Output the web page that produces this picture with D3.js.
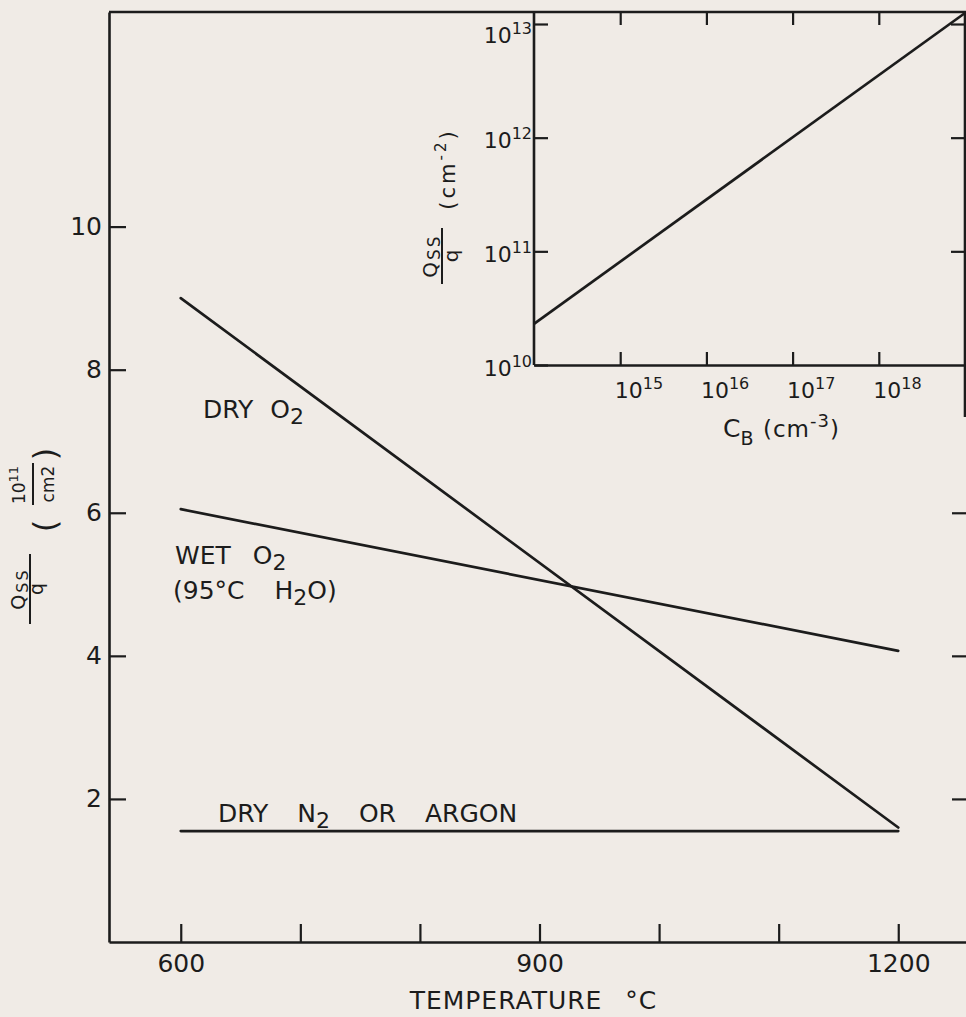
<!DOCTYPE html>
<html>
<head>
<meta charset="utf-8">
<script src="https://cdn.jsdelivr.net/npm/d3@7"></script>
<style>
  html, body { margin: 0; padding: 0; background: #f0ebe6; }
  svg { display: block; font-family: "DejaVu Sans", sans-serif; }
</style>
</head>
<body>
<svg id="chart" width="966" height="1017"></svg>
<script>
// main plot: Qss/q (10^11 cm^-2) against oxidation temperature
const temps = [600, 1200]
const dryO2 = [9.0, 1.6]
const wetO2 = [6.05, 4.07]
const dryN2 = [1.55, 1.55]
const tempTicks = [600, 700, 800, 900, 1000, 1100, 1200]
const tempTickLabels = [600, 900, 1200]
const qTicks = [2, 4, 6, 8, 10]
const qRightTicks = [2, 4, 6]

// inset: Qss/q against bulk doping C_B, log-log
const cbValues = [1e14, 1e19]
const qssValues = [2.3e10, 1.25e13]
const cbTicks = [1e15, 1e16, 1e17, 1e18]
const qssTicks = [1e10, 1e11, 1e12, 1e13]
const qssRightTicks = [1e11, 1e12, 1e13]

const ink = '#1c1c1c'
const svg = d3.select('#chart')

const x = d3.scaleLinear().domain([540, 1260]).range([109, 970])
const y = d3.scaleLinear().domain([0, 13]).range([942, 12])
const xi = d3.scaleLog().domain([1e14, 1e19]).range([534, 965])
const yi = d3.scaleLog().domain([1e10, 1e13]).range([365, 24])

// text with ^{..} / _{..} pieces turned into raised / lowered tspans
function rich(sel, str, smallSize, up, down) {
    const parts = str.split(/([_^]\{[^}]*\})/).filter(s => s)
    let off = 0
    parts.forEach(p => {
        const ts = sel.append('tspan')
        let target = 0
        if (p[0] === '^' || p[0] === '_') {
            target = p[0] === '^' ? -up : down
            ts.text(p.slice(2, -1)).attr('font-size', smallSize)
        } else {
            ts.text(p)
        }
        // a tspan dy replaces the parent's dy, so only set it when it moves
        if (target - off !== 0) ts.attr('dy', target - off)
        off = target
    })
}

function styleAxis(g) {
    g.attr('font-family', null).attr('font-size', null)
    g.selectAll('line').attr('stroke', ink).attr('stroke-width', 2.2)
    g.selectAll('path').attr('stroke', ink).attr('stroke-width', 2.6)
    g.selectAll('text').attr('fill', ink)
}

// ---- main frame
svg.append('line')
    .attr('x1', x(540)).attr('x2', 966)
    .attr('y1', y(13)).attr('y2', y(13))
    .attr('stroke', ink).attr('stroke-width', 2.6)

svg.append('g')
    .attr('transform', `translate(0,${y(0)})`)
    .call(d3.axisBottom(x).tickValues(tempTicks).tickSize(-18).tickSizeOuter(0).tickPadding(12)
        .tickFormat(d => tempTickLabels.includes(d) ? d : ''))
    .call(styleAxis)
    .call(g => g.selectAll('text').attr('font-size', 25))

svg.append('g')
    .attr('transform', `translate(${x(540)},0)`)
    .call(d3.axisLeft(y).tickValues(qTicks).tickSize(-17).tickSizeOuter(0).tickPadding(7))
    .call(styleAxis)
    .call(g => g.selectAll('text').attr('font-size', 25))

svg.append('g')
    .attr('transform', `translate(${x(1260)},0)`)
    .call(d3.axisRight(y).tickValues(qRightTicks).tickSize(-18).tickFormat(''))
    .call(styleAxis)
    .call(g => g.select('.domain').remove())

// ---- main curves
const line = d3.line().x(d => x(d[0])).y(d => y(d[1]))
;[dryO2, wetO2, dryN2].forEach(vals => {
    svg.append('path')
        .datum(temps.map((t, i) => [t, vals[i]]))
        .attr('d', line)
        .attr('fill', 'none')
        .attr('stroke', ink)
        .attr('stroke-width', 2.7)
        .attr('stroke-linecap', 'round')
})

const notes = [
    { t: 618.6, v: 7.33, text: 'DRY O_{2}', ws: 9 },
    { t: 595.2, v: 5.29, text: 'WET O_{2}', ws: 14 },
    { t: 593.5, v: 4.80, text: '(95°C H_{2}O)', ws: 22 },
    { t: 631.2, v: 1.68, text: 'DRY N_{2} OR ARGON', ws: 21 }
]
notes.forEach(n => {
    const t = svg.append('text')
        .attr('x', x(n.t)).attr('y', y(n.v))
        .attr('font-size', 25).attr('fill', ink)
        .style('word-spacing', n.ws + 'px')
    rich(t, n.text, 22, 9, 6)
})

svg.append('text')
    .attr('x', x(900) - 6).attr('y', 1009)
    .attr('text-anchor', 'middle')
    .attr('font-size', 25).attr('fill', ink)
    .style('letter-spacing', '1px')
    .style('word-spacing', '14px')
    .text('TEMPERATURE °C')

// main y title, rotated
const yt = svg.append('g').attr('transform', 'translate(30,560) rotate(-90)')
    .attr('fill', ink)
yt.append('line').attr('x1', -64).attr('x2', 6).attr('y1', 0).attr('y2', 0)
    .attr('stroke', ink).attr('stroke-width', 2)
rich(yt.append('text').attr('x', -29).attr('y', -5).attr('text-anchor', 'middle')
    .attr('font-size', 19).style('letter-spacing', '2px'), 'Q_{SS}', 16, 0, 3)
yt.append('text').attr('x', -29).attr('y', 13).attr('text-anchor', 'middle')
    .attr('font-size', 19).text('q')
yt.append('text').attr('x', 34).attr('y', 26).attr('text-anchor', 'middle')
    .attr('font-size', 32).text('(')
yt.append('text').attr('x', 106).attr('y', 26).attr('text-anchor', 'middle')
    .attr('font-size', 32).text(')')
rich(yt.append('text').attr('x', 75).attr('y', -5).attr('text-anchor', 'middle')
    .attr('font-size', 17), '10^{11}', 13, 7, 0)
yt.append('line').attr('x1', 55).attr('x2', 97).attr('y1', 3).attr('y2', 3)
    .attr('stroke', ink).attr('stroke-width', 2)
yt.append('text').attr('x', 76).attr('y', 24).attr('text-anchor', 'middle')
    .attr('font-size', 17).text('cm2')

// ---- inset
svg.append('line')
    .attr('x1', xi(1e19)).attr('x2', xi(1e19))
    .attr('y1', y(13)).attr('y2', 417)
    .attr('stroke', ink).attr('stroke-width', 2.6)

svg.append('g')
    .attr('transform', `translate(0,${yi(1e10)})`)
    .call(d3.axisBottom(xi).tickValues(cbTicks).tickSize(-13).tickSizeOuter(0).tickPadding(17))
    .call(styleAxis)
    .call(g => g.selectAll('.tick text')
        .attr('font-size', 22).attr('text-anchor', 'start').attr('x', -6)
        .each(function (d) {
            d3.select(this).text(null)
            rich(d3.select(this), `10^{${Math.round(Math.log10(d))}}`, 16, 9, 0)
        }))

svg.append('g')
    .attr('transform', `translate(${xi(1e14)},0)`)
    .call(d3.axisLeft(yi).tickValues(qssTicks).tickSize(-14).tickSizeOuter(0).tickPadding(2))
    .call(styleAxis)
    .call(g => g.select('.domain').attr('d', `M0,${yi(1e10)}V${y(13)}`))
    .call(g => g.selectAll('.tick text')
        .attr('font-size', 22)
        .attr('dy', d => d === 1e13 ? 18 : 10)
        .each(function (d) {
            d3.select(this).text(null)
            rich(d3.select(this), `10^{${Math.round(Math.log10(d))}}`, 16, 9, 0)
        }))

svg.append('g')
    .attr('transform', `translate(0,${y(13)})`)
    .call(d3.axisTop(xi).tickValues(cbTicks).tickSize(-13).tickFormat(''))
    .call(styleAxis)
    .call(g => g.select('.domain').remove())

svg.append('g')
    .attr('transform', `translate(${xi(1e19)},0)`)
    .call(d3.axisRight(yi).tickValues(qssRightTicks).tickSize(-14).tickFormat(''))
    .call(styleAxis)
    .call(g => g.select('.domain').remove())

svg.append('path')
    .datum(cbValues.map((c, i) => [c, qssValues[i]]))
    .attr('d', d3.line().x(d => xi(d[0])).y(d => yi(d[1])))
    .attr('fill', 'none')
    .attr('stroke', ink)
    .attr('stroke-width', 2.7)

// inset x title
rich(svg.append('text').attr('x', 723).attr('y', 437).attr('font-size', 25).attr('fill', ink),
    'C_{B}', 19, 0, 8)
rich(svg.append('text').attr('x', 763).attr('y', 437).attr('font-size', 23).attr('fill', ink)
    .style('letter-spacing', '1px'), '(cm^{-3})', 18, 10, 0)

// inset y title, rotated
const it = svg.append('g').attr('transform', 'translate(442,282) rotate(-90)')
    .attr('fill', ink)
it.append('line').attr('x1', -2).attr('x2', 54).attr('y1', 0).attr('y2', 0)
    .attr('stroke', ink).attr('stroke-width', 2)
rich(it.append('text').attr('x', 26).attr('y', -5).attr('text-anchor', 'middle')
    .attr('font-size', 20).style('letter-spacing', '2px'), 'Q_{SS}', 17, 0, 3)
it.append('text').attr('x', 26).attr('y', 16).attr('text-anchor', 'middle')
    .attr('font-size', 20).text('q')
rich(it.append('text').attr('x', 113).attr('y', 13).attr('text-anchor', 'middle')
    .attr('font-size', 21).style('letter-spacing', '3px'), '(cm^{-2})', 15, 9, 0)
</script>
</body>
</html>
